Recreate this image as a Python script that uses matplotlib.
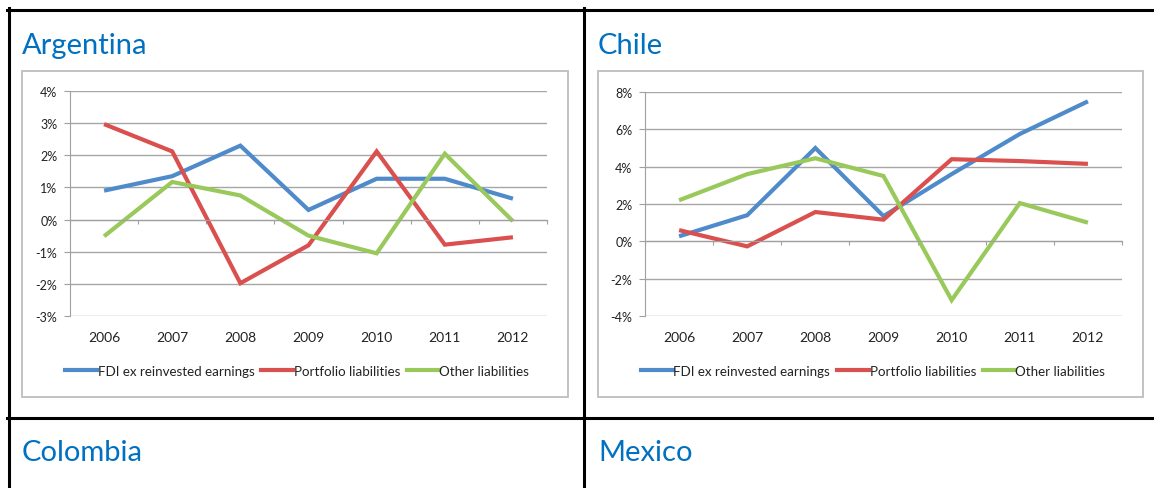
import matplotlib.pyplot as plt
from matplotlib.lines import Line2D
from matplotlib.patches import Rectangle
import matplotlib.transforms as mtransforms

years = ["2006", "2007", "2008", "2009", "2010", "2011", "2012"]
series_names = ["FDI ex reinvested earnings", "Portfolio liabilities", "Other liabilities"]

# Argentina, % of GDP
arg_fdi = [0.9, 1.35, 2.3, 0.3, 1.27, 1.27, 0.65]
arg_portfolio = [2.97, 2.12, -1.98, -0.8, 2.12, -0.78, -0.55]
arg_other = [-0.52, 1.17, 0.75, -0.5, -1.05, 2.05, -0.05]
arg_ticks = [-3, -2, -1, 0, 1, 2, 3, 4]

# Chile, % of GDP
chl_fdi = [0.27, 1.4, 5.0, 1.35, 3.6, 5.75, 7.5]
chl_portfolio = [0.6, -0.27, 1.57, 1.16, 4.4, 4.3, 4.15]
chl_other = [2.2, 3.6, 4.45, 3.5, -3.15, 2.05, 1.0]
chl_ticks = [-4, -2, 0, 2, 4, 6, 8]

colors = ["#4F8BCB", "#D9504F", "#98C95A"]
title_color = "#0070C0"

W, H = 1154, 489
plt.rcParams['font.family'] = ['Lato', 'DejaVu Sans']

fig = plt.figure(figsize=(W / 100, H / 100), dpi=100)


def fx(px):
    return px / W


def fy(py):
    return 1 - py / H


def panel(box, plot, title, title_x, data, ticks, legend_cx):
    # grey chart frame
    x0, y0, x1, y1 = box
    fig.add_artist(Rectangle((fx(x0), fy(y1)), fx(x1 - x0), (y1 - y0) / H,
                             transform=fig.transFigure, fill=False,
                             edgecolor="#BDBDBD", linewidth=1.3))
    fig.text(fx(title_x), fy(46), title, color=title_color, fontsize=21,
             ha="left", va="center")

    px0, py0, px1, py1 = plot
    ax = fig.add_axes([fx(px0), fy(py1), fx(px1 - px0), (py1 - py0) / H])
    x = list(range(len(years)))
    for vals, c, name in zip(data, colors, series_names):
        ax.plot(x, vals, color=c, linewidth=3.0, label=name,
                solid_capstyle="butt", solid_joinstyle="miter")

    ax.set_xlim(-0.5, len(years) - 0.5)
    ax.set_ylim(ticks[0], ticks[-1])
    ax.set_yticks(ticks)
    ax.set_yticklabels(["%d%%" % t for t in ticks])
    ax.yaxis.grid(True, color="#A6A6A6", linewidth=1.0)
    ax.set_axisbelow(True)
    for s in ["top", "right"]:
        ax.spines[s].set_visible(False)
    ax.spines["left"].set_color("#A0A0A0")
    ax.spines["bottom"].set_position(("data", 0))
    ax.spines["bottom"].set_color("#A0A0A0")
    ax.tick_params(axis="y", length=4, color="#A0A0A0", labelsize=9,
                   labelcolor="#222222", pad=5)
    ax.set_xticks([i - 0.5 for i in range(len(years) + 1)])
    ax.set_xticklabels([])
    ax.tick_params(axis="x", length=3, color="#A0A0A0", direction="out")

    trans = mtransforms.blended_transform_factory(ax.transData, ax.transAxes)
    for i, yr in enumerate(years):
        ax.text(i, -21 / (py1 - py0), yr, transform=trans, ha="center",
                va="center", fontsize=10, color="#222222")

    handles = [Line2D([], [], color=c, linewidth=3.0) for c in colors]
    fig.legend(handles, series_names, loc="center",
               bbox_to_anchor=(fx(legend_cx), fy(372)), ncol=3,
               frameon=False, fontsize=9.6, handlelength=2.4,
               handletextpad=0.05, columnspacing=0.5, labelcolor="#222222")
    return ax


panel((22, 72, 568, 398), (70, 92, 547, 317), "Argentina", 22,
      [arg_fdi, arg_portfolio, arg_other], arg_ticks, 297)
panel((598, 72, 1143, 398), (645, 93, 1122, 317), "Chile", 598,
      [chl_fdi, chl_portfolio, chl_other], chl_ticks, 873)

fig.text(fx(22), fy(453), "Colombia", color=title_color, fontsize=21,
         ha="left", va="center")
fig.text(fx(598), fy(453), "Mexico", color=title_color, fontsize=21,
         ha="left", va="center")

# table borders
border = dict(color="black", linewidth=2.2, transform=fig.transFigure)
fig.add_artist(Line2D([fx(7), 1], [fy(10.5), fy(10.5)], **border))
fig.add_artist(Line2D([fx(7), 1], [fy(419), fy(419)], **border))
fig.add_artist(Line2D([fx(8.5), fx(8.5)], [fy(9), 0], **border))
fig.add_artist(Line2D([fx(584), fx(584)], [fy(9), 0], **border))

fig.savefig("out.png", dpi=100)
